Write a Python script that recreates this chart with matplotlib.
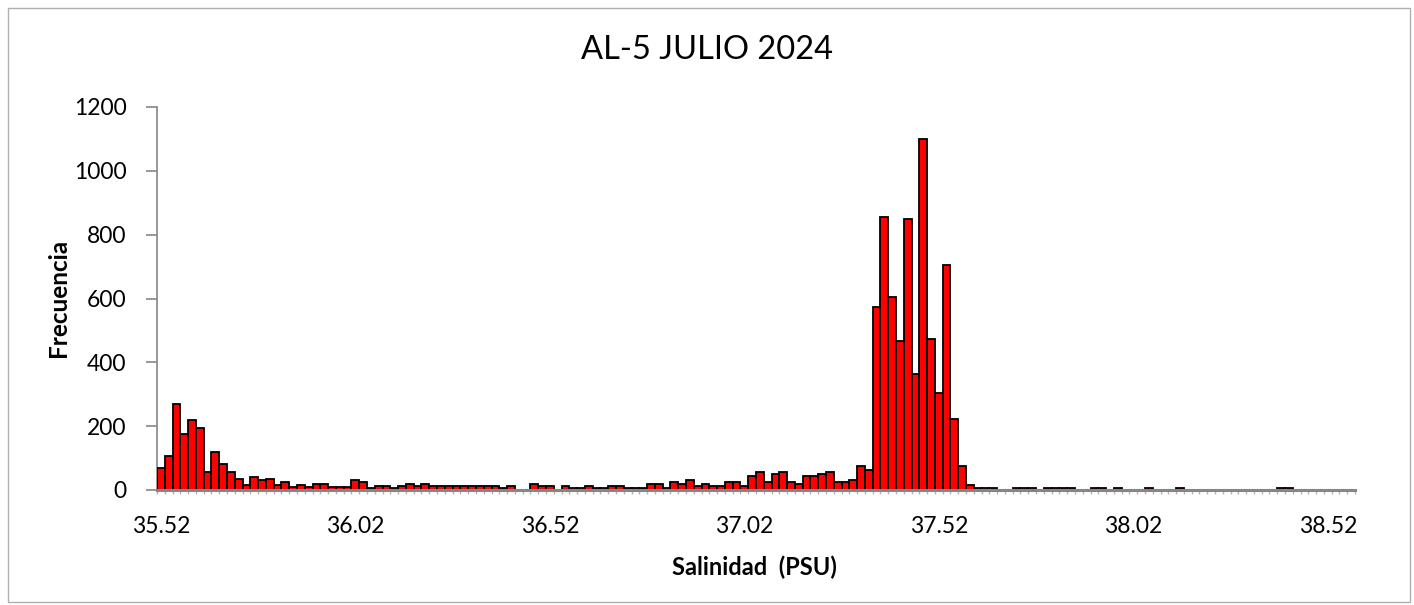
import matplotlib
matplotlib.use("Agg")
import matplotlib.pyplot as plt
from matplotlib.patches import Rectangle
import numpy as np

plt.rcParams['font.family'] = ['Lato', 'DejaVu Sans']

title = "AL-5 JULIO 2024"
x_title = "Salinidad  (PSU)"
y_title = "Frecuencia"

# salinity classes: 35.52, 35.54, ... (bin width 0.02 PSU)
bin_start = 35.52
bin_width = 0.02

# frequency per salinity class
frecuencia = [
    68, 105, 268, 174, 218, 193, 55, 118, 80, 55,
    35, 17, 42, 30, 35, 17, 24, 9, 17, 8,
    18, 18, 10, 10, 10, 30, 24, 5, 12, 12,
    5, 12, 18, 12, 18, 12, 12, 12, 12, 12,
    12, 12, 12, 12, 6, 12, 0, 0, 19, 12,
    12, 0, 12, 5, 5, 12, 5, 5, 12, 12,
    5, 5, 5, 18, 18, 5, 24, 18, 30, 12,
    18, 12, 12, 25, 25, 12, 43, 55, 24, 50,
    55, 24, 18, 43, 43, 49, 55, 24, 24, 30,
    74, 62, 574, 856, 605, 468, 849, 362, 1099, 473,
    305, 706, 224, 74, 17, 5, 5, 5, 0, 0,
    5, 5, 5, 0, 5, 5, 5, 5, 0, 0,
    5, 5, 0, 5, 0, 0, 0, 5, 0, 0,
    0, 5, 0, 0, 0, 0, 0, 0, 0, 0,
    0, 0, 0, 0, 5, 5, 0, 0, 0, 0,
    0, 0, 0, 0,
]

tick_labels = ["35.52", "36.02", "36.52", "37.02", "37.52", "38.02", "38.52"]
label_step = 25          # one label every 25 classes
y_ticks = [0, 200, 400, 600, 800, 1000, 1200]

W, H = 1414, 605
fig = plt.figure(figsize=(W / 100, H / 100), dpi=100)
fig.patch.set_facecolor("white")

# chart-area frame
fig.add_artist(Rectangle((8 / W, 3 / H), 1402 / W, 594 / H,
                         transform=fig.transFigure, fill=False,
                         edgecolor="#b0b0b0", linewidth=1.0))

ax = fig.add_axes([157 / W, 1 - 490 / H, (1355 - 157) / W, (490 - 107) / H])

n = len(frecuencia)
idx = np.arange(n)
edges = ["black" if v > 0 else "none" for v in frecuencia]
ax.bar(idx, frecuencia, width=1.0, color="#ff0000", edgecolor=edges,
       linewidth=1.3, zorder=3)

ax.set_xlim(-0.5, n - 0.5)
ax.set_ylim(0, 1200)

ax.set_xticks(idx[::label_step][:len(tick_labels)])
ax.set_xticklabels(tick_labels)
ax.set_xticks(np.arange(-0.5, n, 1.0), minor=True)
ax.tick_params(axis="x", which="major", length=0, pad=19, labelsize=16.5)
ax.tick_params(axis="x", which="minor", length=3, color="#b4b4b4", width=1)

ax.set_yticks(y_ticks)
ax.tick_params(axis="y", which="major", length=8, color="#868686", width=1.2,
               pad=14, labelsize=16.5)

for s in ("top", "right"):
    ax.spines[s].set_visible(False)
ax.spines["left"].set_color("#868686")
ax.spines["left"].set_linewidth(1.2)
ax.spines["bottom"].set_color("#868686")
ax.spines["bottom"].set_linewidth(2.2)
ax.spines["bottom"].set_zorder(4)

fig.text(0.5, 1 - 50 / H, title, ha="center", va="center", fontsize=23.5)
fig.text(754 / W, 1 - 567 / H, x_title, ha="center", va="center",
         fontsize=17, fontweight="bold")
fig.text(58 / W, 1 - 298 / H, y_title, ha="center", va="center",
         fontsize=17.5, fontweight="bold", rotation=90)

fig.savefig("out.png", dpi=100)
